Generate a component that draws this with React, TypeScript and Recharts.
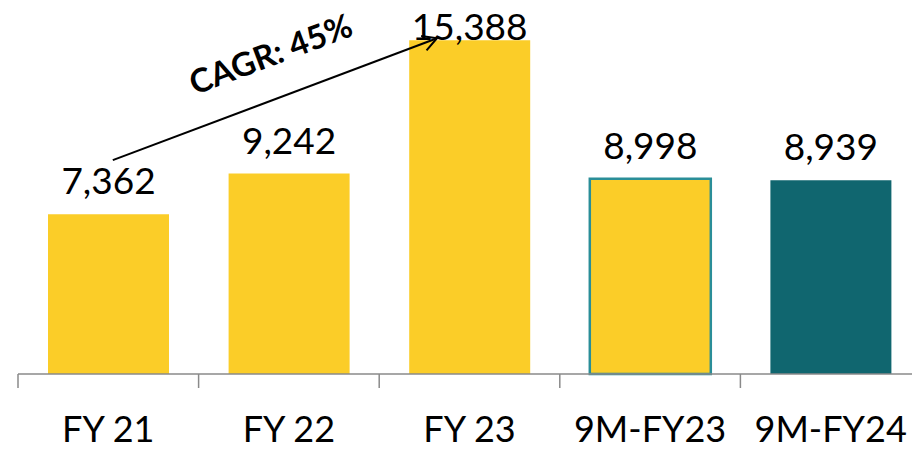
import { Bar, BarChart, Cell, LabelList, ReferenceLine, XAxis, YAxis } from 'recharts';

const categories = ['FY 21', 'FY 22', 'FY 23', '9M-FY23', '9M-FY24'];
const values = [7362, 9242, 15388, 8998, 8939];
const highlight = [false, false, false, true, false];
const current = [false, false, false, false, true];
const cagrLabel = 'CAGR: 45%';
// arrow ends: category, value, and a nudge as a fraction of the band
const arrowStart = { x: 'FY 21', y: 9860 };
const arrowEnd = { x: 'FY 23', y: 15480 };
const arrowNudge = [0.025, -0.18];

const data = categories.map((name, i) => ({ name, value: values[i] }));

const yellow = '#FBCD28';
const teal = '#10666F';
const tealBorder = '#2A8E98';
const axisGrey = '#8A8A8A';
const font = 'Lato, "Open Sans", sans-serif';

const W = 930;
const H = 452;
const margin = { top: 27, right: 9, bottom: 0, left: 18 };
const band = (W - margin.left - margin.right) / categories.length;
const axisH = 78;

const Tick = ({ x, y, payload }: any) => (
  <g>
    <line
      x1={x - band / 2}
      x2={x - band / 2}
      y1={y - 14}
      y2={y}
      stroke={axisGrey}
      strokeWidth={1.5}
    />
    <text
      x={x}
      y={y + 54}
      textAnchor='middle'
      fontFamily={font}
      fontSize={36}
      fill='#000'>
      {payload.value}
    </text>
  </g>
);

const ValueLabel = ({ x, y, width, value }: any) => (
  <text
    x={x + width / 2}
    y={Math.max(y - 20, 40)}
    textAnchor='middle'
    fontFamily={font}
    fontSize={37}
    fill='#000'>
    {Number(value).toLocaleString('en-US')}
  </text>
);

const ArrowShape = (props: any) => {
  const x1 = props.x1 + arrowNudge[0] * band;
  const x2 = props.x2 + arrowNudge[1] * band;
  const { y1, y2 } = props;
  const ang = Math.atan2(y2 - y1, x2 - x1);
  const deg = (ang * 180) / Math.PI;
  const head = 16;
  const spread = 0.5;
  const mx = (x1 + x2) / 2;
  const my = (y1 + y2) / 2;
  const nx = Math.sin(ang);
  const ny = -Math.cos(ang);
  const tx = mx + nx * 32 + Math.cos(ang) * 12;
  const ty = my + ny * 32 + Math.sin(ang) * 12;
  return (
    <g>
      <line x1={x1} y1={y1} x2={x2} y2={y2} stroke='#000' strokeWidth={2} />
      <polyline
        points={`${x2 - head * Math.cos(ang - spread)},${y2 - head * Math.sin(ang - spread)} ${x2},${y2} ${x2 - head * Math.cos(ang + spread)},${y2 - head * Math.sin(ang + spread)}`}
        fill='none'
        stroke='#000'
        strokeWidth={2}
      />
      <text
        x={tx}
        y={ty}
        textAnchor='middle'
        fontFamily={font}
        fontWeight='bold'
        fontSize={33}
        fill='#000'
        transform={`rotate(${deg} ${tx} ${ty})`}>
        {cagrLabel}
      </text>
    </g>
  );
};

export default function App() {
  return (
    <div
      style={{
        position: 'fixed',
        left: 0,
        top: 0,
        width: 912,
        height: H,
        overflow: 'hidden',
        background: '#fff',
      }}>
      <BarChart width={W} height={H} data={data} margin={margin} barSize={121}>
        <XAxis
          dataKey='name'
          height={axisH}
          axisLine={{ stroke: axisGrey, strokeWidth: 1.5 }}
          tickLine={false}
          tickSize={14}
          tickMargin={0}
          interval={0}
          tick={<Tick />}
        />
        <YAxis hide domain={[0, 16000]} />
        <Bar dataKey='value' isAnimationActive={false}>
          {data.map((_, i) => (
            <Cell
              key={i}
              fill={current[i] ? teal : yellow}
              stroke={highlight[i] ? tealBorder : 'none'}
              strokeWidth={highlight[i] ? 2.5 : 0}
            />
          ))}
          <LabelList dataKey='value' content={<ValueLabel />} />
        </Bar>
        <ReferenceLine
          segment={[arrowStart, arrowEnd]}
          ifOverflow='visible'
          shape={<ArrowShape />}
        />
      </BarChart>
    </div>
  );
}
